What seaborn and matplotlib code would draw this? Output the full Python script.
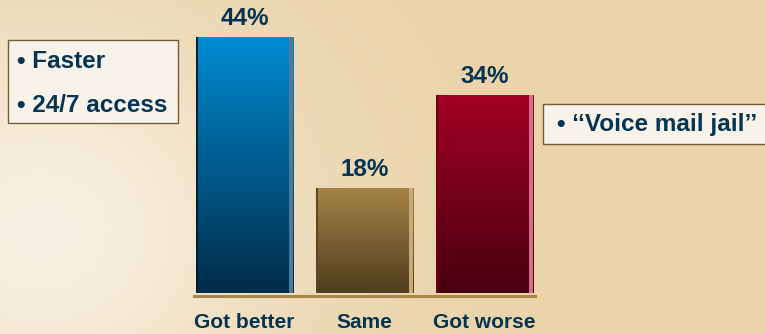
import numpy as np
import pandas as pd
import matplotlib
matplotlib.use("Agg")
import matplotlib.pyplot as plt
import seaborn as sns
from matplotlib.patches import Rectangle
from matplotlib.colors import LinearSegmentedColormap

# Survey answers: how service changed
categories = ["Got better", "Same", "Got worse"]
shares = [44, 18, 34]
value_labels = ["44%", "18%", "34%"]
pros = ["• Faster", "• 24/7 access"]
cons = ["• \u2018\u2018Voice mail jail\u2019\u2019"]

# (top colour, bottom colour, left edge, right edge) per bar
bar_styles = [
    ("#008cd2", "#002c48", "#001e32", "#50789a"),
    ("#a58446", "#4f3c1e", "#5e4523", "#c8aa78"),
    ("#a20024", "#48000f", "#6c0016", "#d2708a"),
]
ink = "#063452"
rule = "#a6864a"

sns.set_theme(style="white")
plt.rcParams["font.family"] = ["Liberation Sans", "DejaVu Sans"]
plt.rcParams["font.weight"] = "bold"

W, H = 765, 334
fig = plt.figure(figsize=(W / 100, H / 100), dpi=100)

# parchment backdrop: pale towards the left, warmer tan to the right
bg = fig.add_axes([0, 0, 1, 1], zorder=-10)
yy, xx = np.mgrid[0:H, 0:W].astype(float)
light = np.exp(-(((xx - 40) / 240) ** 2 + ((yy - 230) / 210) ** 2))
light = np.clip(light, 0, 1)
tan = np.array([234, 212, 170]) / 255
pale = np.array([247, 240, 226]) / 255
img = tan[None, None, :] * (1 - light[..., None]) + pale[None, None, :] * light[..., None]
bg.imshow(img, aspect="auto", extent=[0, W, H, 0])
bg.set_axis_off()

# chart area in pixel terms
left, right, bottom, top = 194, 535, 293, 37
ax = fig.add_axes([left / W, (H - bottom) / H, (right - left) / W, (bottom - top) / H])
ax.patch.set_alpha(0)

df = pd.DataFrame({"category": categories, "share": shares})
sns.barplot(data=df, x="category", y="share", ax=ax, width=0.81,
            color="white", saturation=1, edgecolor="none", linewidth=0)

for patch, (c_top, c_bot, c_left, c_right) in zip(ax.patches, bar_styles):
    x0, y0 = patch.get_x(), patch.get_y()
    w, h = patch.get_width(), patch.get_height()
    cmap = LinearSegmentedColormap.from_list("g", [c_bot, c_top])
    grad = np.linspace(0, 1, 256).reshape(-1, 1)
    im = ax.imshow(grad, cmap=cmap, origin="lower", aspect="auto",
                   extent=[x0, x0 + w, y0, y0 + h], zorder=2)
    im.set_clip_path(patch)
    ax.add_patch(Rectangle((x0, y0), w * 0.02, h, color=c_left, lw=0, zorder=3))
    ax.add_patch(Rectangle((x0 + w * 0.96, y0), w * 0.04, h, color=c_right, lw=0, zorder=3))

ax.bar_label(ax.containers[0], labels=value_labels, padding=5, fontsize=17.5,
             fontweight="bold", color=ink)

ax.set_xlim(-0.421, 2.421)
ax.set_ylim(0, 44)
ax.set_xlabel("")
ax.set_ylabel("")
ax.set_yticks([])
for side in ("top", "left", "right"):
    ax.spines[side].set_visible(False)
ax.spines["bottom"].set_position(("outward", 1.8))
ax.spines["bottom"].set_color(rule)
ax.spines["bottom"].set_linewidth(2.2)
ax.tick_params(axis="x", length=0, pad=12.5, labelsize=15, labelcolor=ink)
for lab in ax.get_xticklabels():
    lab.set_fontweight("bold")

# note boxes
def note_box(x0, y0, x1, y1, lines, ys, xt):
    box = Rectangle((x0 / W, 1 - y1 / H), (x1 - x0) / W, (y1 - y0) / H,
                    transform=fig.transFigure, facecolor="#f7f2ea",
                    edgecolor="#7a5c34", linewidth=1.0, zorder=1)
    fig.patches.append(box)
    for text, yc in zip(lines, ys):
        fig.text(xt / W, 1 - yc / H, text, fontsize=17.5, fontweight="bold",
                 color=ink, va="center", ha="left")

note_box(8, 40, 178, 123, pros, [61, 105], 17)
note_box(543, 104, 766, 144, cons, [124], 557)

fig.savefig("out.png", dpi=100)
